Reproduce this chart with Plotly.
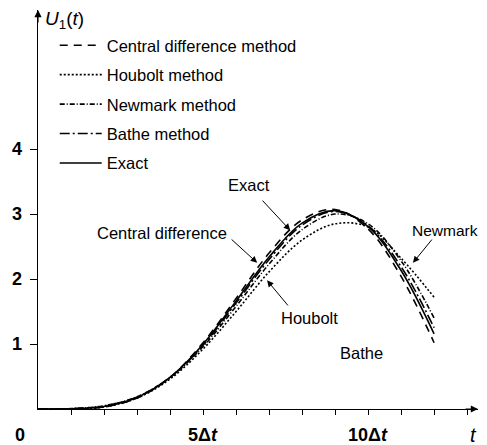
import plotly.graph_objects as go

# time steps (in units of delta t) and displacement U1
steps = [0, 1, 2, 3, 4, 5, 6, 7, 8, 9, 10, 11, 12]
exact = [0, 0.003, 0.038, 0.176, 0.486, 0.996, 1.66, 2.338, 2.861, 3.052, 2.806, 2.131, 1.157]
central = [0, 0, 0.0307, 0.168, 0.487, 1.02, 1.70, 2.40, 2.91, 3.07, 2.77, 2.04, 1.02]
houbolt = [0, 0, 0.0307, 0.167, 0.461, 0.923, 1.50, 2.11, 2.60, 2.85, 2.80, 2.32, 1.72]
newmark = [0, 0.00673, 0.0504, 0.189, 0.485, 0.961, 1.58, 2.23, 2.76, 3.00, 2.85, 2.28, 1.40]
bathe = [0, 0.005, 0.044, 0.183, 0.486, 0.98, 1.63, 2.30, 2.83, 3.04, 2.82, 2.19, 1.25]

y_ticks = [1, 2, 3, 4]
x_minor_ticks = list(range(1, 14))
x_labels = ["5Δ<i>t</i>", "10Δ<i>t</i>"]
x_label_pos = [5, 10]

FONT = "Liberation Sans, Arial, sans-serif"

series = [
    ("Central difference method", central, "8px,6px"),
    ("Houbolt method", houbolt, "2px,2px"),
    ("Newmark method", newmark, "5px,2px,1px,2px"),
    ("Bathe method", bathe, "10px,3px,2px,3px"),
    ("Exact", exact, "solid"),
]

fig = go.Figure()
for i, (name, vals, dash) in enumerate(series):
    fig.add_trace(go.Scatter(
        x=steps, y=vals, mode="lines", name=name,
        line=dict(color="black", width=1.6, dash=dash, shape="spline", smoothing=1.0),
        legendgroup=str(i),
    ))

ann = []
# axis labels
for txt, pos in zip(x_labels, x_label_pos):
    ann.append(dict(x=pos, y=-0.065, xref="x", yref="paper", text="<b>%s</b>" % txt,
                    showarrow=False, font=dict(size=18, family=FONT),
                    xanchor="center", yanchor="middle"))
ann.append(dict(x=-0.04, y=-0.065, xref="paper", yref="paper", text="<b>0</b>", showarrow=False,
                font=dict(size=18, family=FONT), xanchor="center", yanchor="middle"))
ann.append(dict(x=13.2, y=-0.065, xref="x", yref="paper", text="<i>t</i>", showarrow=False,
                font=dict(size=20, family=FONT), xanchor="center", yanchor="middle"))
for v in y_ticks:
    ann.append(dict(x=-0.048, y=v, xref="paper", yref="y", text="<b>%d</b>" % v, showarrow=False,
                    font=dict(size=18, family=FONT), xanchor="center", yanchor="middle"))
ann.append(dict(x=0.012, y=5.98, xref="paper", yref="y", text="<i>U</i><sub>1</sub>(<i>t</i>)",
                showarrow=False, xanchor="left", font=dict(size=19, family=FONT)))

# axis arrows
ann.append(dict(x=1.0, y=0, ax=-14, ay=0, xref="paper", yref="y",
                text="", showarrow=True, arrowhead=2, arrowsize=1.2, arrowwidth=1.2,
                arrowcolor="black"))
ann.append(dict(x=0, y=1.0, ax=0, ay=14, xref="x", yref="paper",
                text="", showarrow=True, arrowhead=2, arrowsize=1.2, arrowwidth=1.2,
                arrowcolor="black"))

# curve labels
labels = [
    ("Exact", 6.39, 3.45),
    ("Central difference", 3.76, 2.71),
    ("Houbolt", 8.24, 1.40),
    ("Bathe", 9.79, 0.86),
]
for txt, lx, ly in labels:
    ann.append(dict(x=lx, y=ly, xref="x", yref="y", text=txt, showarrow=False,
                    font=dict(size=16.5, family=FONT)))
ann.append(dict(x=1.004, y=2.75, xref="paper", yref="y", text="Newmark", showarrow=False,
                xanchor="right", font=dict(size=15.5, family=FONT)))

pointers = [
    (7.64, 2.75, 6.76, 3.23),
    (6.64, 2.25, 5.82, 2.63),
    (6.94, 1.98, 7.61, 1.57),
    (11.36, 2.25, 11.97, 2.63),
]
for tx, ty, sx, sy in pointers:
    ann.append(dict(x=tx, y=ty, ax=sx, ay=sy, xref="x", yref="y", axref="x", ayref="y",
                    text="", showarrow=True, arrowhead=2, arrowsize=1.3, arrowwidth=1,
                    arrowcolor="black"))

fig.update_layout(
    width=479, height=437,
    margin=dict(l=30, r=9, t=2, b=36),
    plot_bgcolor="white", paper_bgcolor="white",
    font=dict(family=FONT, color="black"),
    showlegend=True,
    legend=dict(x=0.038, y=0.955, xanchor="left", yanchor="top", bgcolor="rgba(0,0,0,0)",
                font=dict(size=16.5, family=FONT), tracegroupgap=5, itemwidth=42,
                traceorder="grouped"),
    xaxis=dict(range=[0, 13.33], showgrid=False, zeroline=False, showline=True,
               linecolor="black", linewidth=1.2, tickvals=x_minor_ticks, ticks="outside",
               ticklen=5, tickcolor="black", showticklabels=False),
    yaxis=dict(range=[0, 6.14], showgrid=False, zeroline=False, showline=True,
               linecolor="black", linewidth=1.2, tickvals=y_ticks, ticks="outside",
               ticklen=7, tickcolor="black", showticklabels=False),
    annotations=ann,
)

fig.write_html("out.html")
